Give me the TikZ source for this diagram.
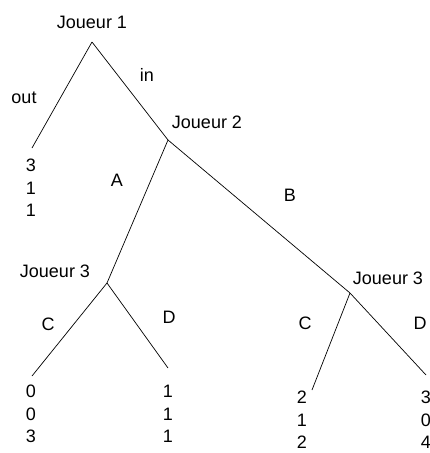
\documentclass[tikz,border=0pt]{standalone}
\usepackage{fontspec}
\setmainfont{Liberation Sans}
\begin{document}
\begin{tikzpicture}[x=1pt,y=-1pt,
  lbl/.style={inner sep=0pt,font=\fontsize{18}{22}\selectfont},
  pay/.style={inner sep=0pt,align=center,font=\fontsize{18}{22.5}\selectfont},
  branch/.style={draw=black,line width=0.7pt}]
\useasboundingbox (0,0) rectangle (430,453);
% decision points
\coordinate (r) at (92,42);
\coordinate (j2) at (168,140);
\coordinate (j3a) at (107,283);
\coordinate (j3b) at (350,293);
% leaf ends
\coordinate (lout) at (32,148);
\coordinate (lac) at (32,376);
\coordinate (lad) at (168,368);
\coordinate (lbc) at (312,390);
\coordinate (lbd) at (426,375);
% branches
\draw[branch] (r) -- (lout);
\draw[branch] (r) -- (j2);
\draw[branch] (j2) -- (j3a);
\draw[branch] (j2) -- (j3b);
\draw[branch] (j3a) -- (lac);
\draw[branch] (j3a) -- (lad);
\draw[branch] (j3b) -- (lbc);
\draw[branch] (j3b) -- (lbd);
% player labels
\node[lbl] (p1) at (92,22) {Joueur 1};
\node[lbl] (p2) at (207,122) {Joueur 2};
\node[lbl] (p3a) at (55,271) {Joueur 3};
\node[lbl] (p3b) at (388,278) {Joueur 3};
% action labels
\node[lbl] (aout) at (24,98) {out};
\node[lbl] (ain) at (147,75) {in};
\node[lbl] (aA) at (117,180) {A};
\node[lbl] (aB) at (290,195) {B};
\node[lbl] (aC1) at (48,324) {C};
\node[lbl] (aD1) at (169,317) {D};
\node[lbl] (aC2) at (305,323) {C};
\node[lbl] (aD2) at (420,323) {D};
% payoffs
\node[pay] (vout) at (31,188) {3\\1\\1};
\node[pay] (vac) at (31,414) {0\\0\\3};
\node[pay] (vad) at (168,414) {1\\1\\1};
\node[pay] (vbc) at (302,420) {2\\1\\2};
\node[pay] (vbd) at (426,420) {3\\0\\4};
\end{tikzpicture}
\end{document}
